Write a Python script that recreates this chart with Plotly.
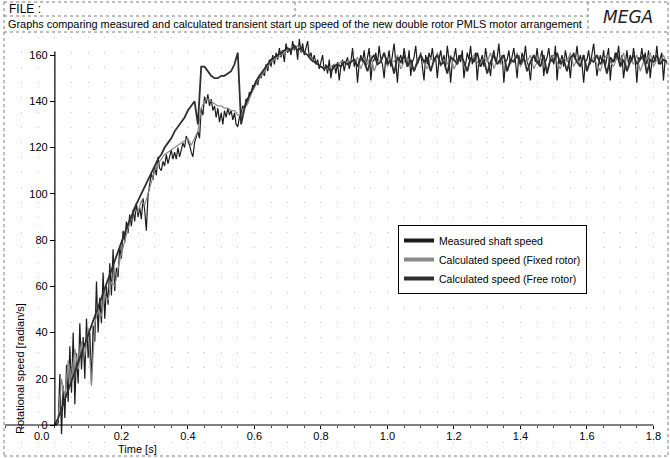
import plotly.graph_objects as go

# sampling of the traces
MEAS_DT = 0.005
CALC_DT = 0.01

measured = [
    0, 0, 1, 22, -4, 17, 3, 26,
    10, 34, 14, 40, 9, 31, 18, 44,
    24, 38, 20, 46, 29, 40, 18, 43,
    36, 62, 40, 55, 44, 66, 46, 60,
    52, 70, 56, 76, 58, 68, 64, 77,
    72, 84, 79, 88, 83, 91, 86, 93,
    88, 96, 90, 94, 89, 98, 93, 84,
    99, 104, 109, 106, 112, 108, 116, 111,
    110, 114, 112, 117, 113, 116, 119, 115,
    118, 115, 120, 116, 119, 122, 120, 125,
    123, 121, 118, 116, 122, 125, 127, 124,
    137, 134, 142, 139, 143, 138, 141, 136,
    138, 133, 137, 131, 135, 130, 136, 133,
    137, 134, 136, 132, 135, 130, 129, 133,
    135, 138, 137, 141, 140, 144, 143, 147,
    146, 149, 147, 151, 150, 153, 151, 156,
    153, 158, 155, 160, 156, 161, 158, 163,
    159, 162, 157, 165, 161, 163, 160, 166,
    162, 164, 158, 167, 161, 165, 160, 163,
    166, 159, 161, 157, 160, 156, 158, 154,
    157, 160, 153, 156, 152, 158, 150, 155,
    156, 152, 157, 149, 155, 158, 153, 157,
    159, 154, 157, 163, 155, 158, 148, 156,
    160, 157, 162, 155, 159, 163, 149, 157,
    158, 161, 156, 164, 158, 156, 150, 159,
    157, 162, 155, 160, 165, 157, 148, 158,
    160, 156, 163, 158, 155, 162, 151, 157,
    159, 164, 156, 158, 161, 155, 149, 160,
    156, 161, 158, 163, 157, 159, 150, 158,
    162, 157, 160, 155, 164, 158, 148, 157,
    159, 163, 156, 160, 157, 162, 150, 156,
    161, 158, 164, 156, 159, 161, 149, 158,
    157, 160, 155, 163, 158, 156, 151, 159,
    162, 157, 159, 165, 156, 160, 148, 157,
    158, 162, 156, 159, 163, 157, 150, 160,
    156, 161, 158, 164, 157, 155, 149, 158,
    160, 157, 163, 156, 159, 162, 151, 157,
    159, 163, 157, 160, 156, 164, 149, 158,
    157, 160, 155, 162, 158, 157, 150, 159,
    161, 158, 164, 157, 160, 156, 148, 157,
    158, 162, 156, 160, 165, 158, 151, 156,
    160, 157, 162, 155, 159, 163, 149, 158,
    157, 161, 158, 164, 156, 160, 150, 157,
    162, 156, 160, 157, 163, 158, 148, 159,
    158, 163, 157, 161, 156, 162, 150, 157,
    160, 157, 164, 156, 159, 161, 149, 158, 157,
]

fixed_rotor = [
    0, 2, 20, 12, 28, 20, 33, 24, 36, 30,
    42, 17, 44, 50, 47, 56, 54, 62, 60, 68,
    74, 80, 85, 90, 93, 92, 97, 95, 100, 106,
    110, 113, 115, 117, 118, 119, 120, 121, 122, 123,
    124, 121, 124, 127, 137, 140, 141, 140, 139, 138,
    138, 137, 137, 136, 136, 134, 134, 137, 139, 143,
    146, 149, 151, 153, 155, 157, 158, 159, 160, 161,
    162, 163, 163, 164, 162, 161, 160, 159, 157, 156,
    155, 155, 154, 155, 156, 156, 157, 157, 156, 158,
    157, 159, 154, 158, 156, 160, 153, 157, 158, 161,
    155, 158, 157, 160, 154, 157, 159, 156, 153, 158,
    160, 157, 154, 159, 157, 161, 155, 158, 156, 160,
    154, 157, 159, 156, 153, 158, 160, 157, 155, 159,
    157, 161, 154, 158, 156, 160, 153, 157, 158, 161,
    155, 158, 157, 160, 154, 157, 159, 156, 153, 158,
    160, 157, 154, 159, 157, 161, 155, 158, 156, 160,
    154, 157, 159, 156, 153, 158, 160, 157, 155, 159,
    157, 161, 154, 158, 156, 160, 153, 157, 158, 161,
    155, 158, 157, 160, 156,
]

free_rotor = [
    0, 3, 7, 11, 15, 19, 23, 27, 31, 35,
    39, 43, 47, 51, 55, 59, 63, 67, 71, 75,
    79, 83, 87, 90, 94, 97, 100, 103, 106, 109,
    112, 115, 117, 120, 122, 124, 127, 129, 131, 133,
    136, 138, 140, 130, 155, 155, 153, 151, 150, 150,
    151, 151, 152, 153, 156, 161, 130, 137, 141, 144,
    147, 150, 152, 154, 156, 158, 159, 160, 161, 162,
    163, 162, 164, 162, 163, 161, 160, 158, 157, 156,
    155, 154, 155, 153, 155, 156, 155, 157, 156, 157,
    158, 155, 159, 157, 153, 158, 160, 156, 157, 161,
    156, 158, 152, 159, 157, 160, 155, 158, 153, 157,
    160, 157, 159, 153, 158, 160, 156, 157, 152, 159,
    158, 156, 160, 157, 153, 159, 157, 161, 155, 158,
    152, 157, 160, 156, 158, 160, 153, 158, 157, 160,
    156, 159, 153, 157, 160, 157, 155, 160, 152, 158,
    157, 161, 156, 158, 153, 159, 160, 157, 155, 160,
    153, 158, 157, 160, 156, 158, 152, 159, 157, 161,
    155, 158, 153, 157, 160, 156, 158, 160, 152, 158,
    157, 160, 156, 158, 157,
]

series_names = ["Measured shaft speed", "Calculated speed (Fixed rotor)",
                "Calculated speed (Free rotor)"]
x_ticks = [0.2, 0.4, 0.6, 0.8, 1.0, 1.2, 1.4, 1.6, 1.8]
y_ticks = [0, 20, 40, 60, 80, 100, 120, 140, 160]

FONT = "Liberation Sans, Arial, sans-serif"
W, H = 670, 458
ML, MR, MT, MB = 5, 2, 37, 3
PW, PH = W - ML - MR, H - MT - MB
X_RANGE = [-0.150, 1.8436]
Y_RANGE = [-12.97, 167.8]


def px(x):
    return (x - ML) / PW


def py(y):
    return (H - MB - y) / PH


fig = go.Figure()
fig.add_trace(go.Scatter(y=measured, x0=0, dx=MEAS_DT, mode="lines",
                         line=dict(color="#1c1c1c", width=1.2), showlegend=False))
fig.add_trace(go.Scatter(y=fixed_rotor, x0=0, dx=CALC_DT, mode="lines",
                         line=dict(color="#8a8a8a", width=1.2), showlegend=False))
fig.add_trace(go.Scatter(y=free_rotor, x0=0, dx=CALC_DT, mode="lines",
                         line=dict(color="#2e2e2e", width=1.8), showlegend=False))

# legend swatches
for name, col in zip(series_names, ["#1c1c1c", "#8a8a8a", "#2e2e2e"]):
    fig.add_trace(go.Scatter(x=[None], y=[None], mode="lines", name=name,
                             line=dict(color=col, width=4)))

grid = dict(showgrid=True, gridcolor="#c4c4c4", gridwidth=1, griddash="1px,14px")
fig.update_layout(
    width=W, height=H,
    margin=dict(l=ML, r=MR, t=MT, b=MB),
    paper_bgcolor="white", plot_bgcolor="white",
    font=dict(family=FONT, size=11, color="black"),
    xaxis=dict(range=X_RANGE, anchor="free",
               position=(0 - Y_RANGE[0]) / (Y_RANGE[1] - Y_RANGE[0]),
               tickvals=x_ticks, ticktext=[f"{v:.1f}" for v in x_ticks],
               ticks="outside", ticklen=3, ticklabelstandoff=-2,
               tickcolor="black", showline=False, zeroline=False,
               minor=dict(dtick=0.05, ticks="outside", ticklen=2, tickcolor="#444", **grid),
               **grid),
    yaxis=dict(range=Y_RANGE, anchor="free",
               position=(0 - X_RANGE[0]) / (X_RANGE[1] - X_RANGE[0]),
               tickvals=y_ticks, ticks="outside", ticklen=5, tickcolor="black",
               showline=False, zeroline=False, showgrid=False),
    legend=dict(x=px(398), y=py(225), xanchor="left", yanchor="top",
                bgcolor="white", bordercolor="black", borderwidth=1,
                font=dict(family=FONT, size=10.5), itemwidth=30,
                tracegroupgap=0),
)

# axis lines (y axis stops at zero, x axis stops at last tick)
fig.add_shape(type="line", xref="x", yref="y", x0=0, x1=0, y0=0, y1=161.5,
              line=dict(color="black", width=1.2))
fig.add_shape(type="line", xref="x", yref="y", x0=X_RANGE[0], x1=x_ticks[-1],
              y0=0, y1=0, line=dict(color="black", width=1.2))

# header box and outer frame
frame = dict(color="#7a7a7a", width=1, dash="dot")
for x0, y0, x1, y1 in [(4, 2, 668, 2), (4, 2, 4, 456), (668, 2, 668, 456),
                       (4, 456, 668, 456), (4, 16, 588, 16), (4, 32, 668, 32),
                       (295, 2, 295, 16), (588, 2, 588, 32)]:
    fig.add_shape(type="line", xref="paper", yref="paper",
                  x0=px(x0), y0=py(y0), x1=px(x1), y1=py(y1), line=frame)

fig.add_annotation(text="FILE :", xref="paper", yref="paper", x=px(7), y=py(9),
                   xanchor="left", yanchor="middle", showarrow=False,
                   font=dict(size=12))
fig.add_annotation(text="Graphs comparing measured and calculated transient start up speed "
                        "of the new double rotor PMLS motor arrangement",
                   xref="paper", yref="paper", x=px(6), y=py(24), xanchor="left",
                   yanchor="middle", showarrow=False, font=dict(size=10.9))
fig.add_annotation(text="<i>MEGA</i>", xref="paper", yref="paper", x=px(628), y=py(17),
                   xanchor="center", yanchor="middle", showarrow=False,
                   font=dict(family="DejaVu Sans", size=17, color="#222"))
fig.add_annotation(text="0.0", xref="x", yref="y", x=0, y=0, xanchor="right",
                   yanchor="top", xshift=-4, yshift=-3, showarrow=False)
fig.add_annotation(text="Time [s]", xref="paper", yref="paper", x=px(137), y=py(449),
                   xanchor="center", yanchor="middle", showarrow=False)
fig.add_annotation(text="Rotational speed [radian/s]", xref="paper", yref="paper",
                   x=px(20), y=py(369), textangle=-90, xanchor="center",
                   yanchor="middle", showarrow=False)

fig.write_html("out.html", config={"displayModeBar": False},
               post_script="document.body.style.margin='0';")
